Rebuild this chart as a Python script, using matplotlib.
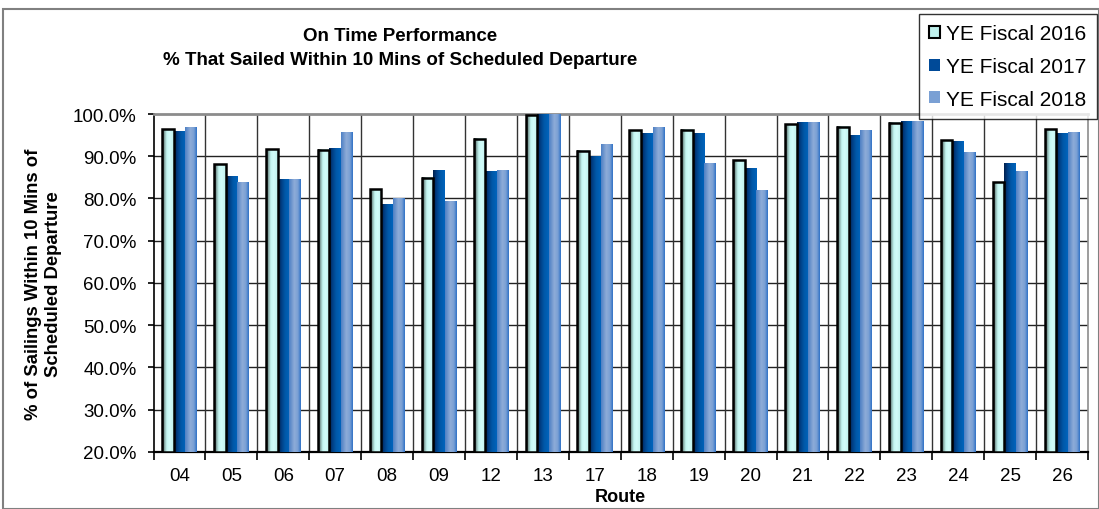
import matplotlib
matplotlib.use('Agg')
import numpy as np
import matplotlib.pyplot as plt
from matplotlib.colors import LinearSegmentedColormap
from matplotlib.patches import Rectangle, Patch
from matplotlib.ticker import FuncFormatter, FixedLocator

plt.rcParams['font.family'] = ['Liberation Sans', 'DejaVu Sans']

routes = ['04', '05', '06', '07', '08', '09', '12', '13', '17', '18',
          '19', '20', '21', '22', '23', '24', '25', '26']
fy2016 = [96.4, 88.1, 91.7, 91.5, 82.2, 84.9, 94.1, 99.7, 91.3, 96.2,
          96.3, 89.1, 97.6, 97.0, 97.9, 93.8, 83.9, 96.4]
fy2017 = [95.8, 85.3, 84.4, 91.9, 78.5, 86.7, 86.3, 100.0, 90.0, 95.5,
          95.3, 87.2, 97.9, 95.0, 98.3, 93.6, 88.2, 95.3]
fy2018 = [96.9, 83.7, 84.4, 95.6, 80.1, 79.2, 86.7, 100.0, 92.9, 96.9,
          88.4, 82.0, 97.9, 96.0, 98.3, 91.0, 86.5, 95.7]
series_names = ['YE Fiscal 2016', 'YE Fiscal 2017', 'YE Fiscal 2018']

# horizontal shading used inside each bar
cmap16 = LinearSegmentedColormap.from_list('c16', [
    (0.0, '#1a1a1a'), (0.18, '#7e9e9a'), (0.40, '#c4f6f2'),
    (0.65, '#d2fcf9'), (1.0, '#bff0ec')])
cmap17 = LinearSegmentedColormap.from_list('c17', [
    (0.0, '#00204c'), (0.30, '#003f85'), (0.60, '#0058a8'), (1.0, '#0064bc')])
cmap18 = LinearSegmentedColormap.from_list('c18', [
    (0.0, '#4e80c4'), (0.45, '#8eacd8'), (0.75, '#7aa0d4'), (1.0, '#2f72c6')])

fig = plt.figure(figsize=(10.99, 5.10), dpi=100)
ax = fig.add_axes([0.1397, 0.1118, 0.8503, 0.6627])

x = np.arange(len(routes))
w = 0.223
ymin, ymax = 20, 100
grad = np.linspace(0, 1, 64).reshape(1, -1)

for vals, off, cmap, edge in [(fy2016, -w, cmap16, True),
                              (fy2017, 0, cmap17, False),
                              (fy2018, w, cmap18, False)]:
    for xi, v in zip(x, vals):
        x0 = xi + off - w / 2
        ax.imshow(grad, extent=[x0, x0 + w, ymin, v], aspect='auto',
                  cmap=cmap, interpolation='bilinear', zorder=3)
        if edge:
            ax.add_patch(Rectangle((x0, ymin), w, v - ymin, fill=False,
                                   edgecolor='black', linewidth=1.8, zorder=4))

ax.set_xlim(-0.5, len(routes) - 0.5)
ax.set_ylim(ymin, ymax)

# grid lines
for yv in range(30, 100, 10):
    ax.axhline(yv, color='#222222', linewidth=1.0, zorder=1)
for b in np.arange(0.5, len(routes) - 0.5, 1):
    ax.axvline(b, color='#333333', linewidth=1.0, zorder=1)

ax.spines['top'].set_color('#8c8c8c')
ax.spines['top'].set_linewidth(2)
ax.spines['right'].set_color('#8c8c8c')
ax.spines['right'].set_linewidth(1.2)
ax.spines['left'].set_linewidth(1.2)
ax.spines['bottom'].set_linewidth(1.6)

ax.set_yticks(range(20, 101, 10))
ax.yaxis.set_major_formatter(FuncFormatter(lambda v, p: f'{v:.1f}%'))
ax.tick_params(axis='y', direction='out', length=4, width=1.2,
               labelsize=13.5, pad=8)

ax.set_xticks(x)
ax.set_xticklabels(routes)
ax.xaxis.set_minor_locator(FixedLocator(np.arange(-0.5, len(routes), 1)))
ax.tick_params(axis='x', which='major', length=0, labelsize=13.5, pad=11)
ax.tick_params(axis='x', which='minor', direction='out', length=6, width=1.2)

ax.set_xlabel('Route', fontsize=13, fontweight='bold', labelpad=3)
ax.set_ylabel('% of Sailings Within 10 Mins of\nScheduled Departure',
              fontsize=13.3, fontweight='bold', labelpad=8, linespacing=1.2)

fig.text(0.364, 0.905, 'On Time Performance\n% That Sailed Within 10 Mins of Scheduled Departure',
         ha='center', va='center', fontsize=13.5, fontweight='bold',
         linespacing=1.5)

handles = [Patch(facecolor='#bff0ec', edgecolor='black', linewidth=1.5),
           Patch(facecolor='#004a98', edgecolor='none'),
           Patch(facecolor='#7aa0d4', edgecolor='none')]
leg = fig.legend(handles, series_names, loc='upper left',
                 bbox_to_anchor=(919 / 1099, 1 - 15 / 510), fontsize=15,
                 frameon=True, fancybox=False, edgecolor='black',
                 handlelength=0.5, handleheight=0.5, handletextpad=0.3,
                 labelspacing=0.65, borderpad=0.5, borderaxespad=0)
leg.get_frame().set_linewidth(1.0)

# outer chart frame
fig.patches.append(Rectangle((3 / 1099, 0), 1 - 3 / 1099, 1 - 10 / 510,
                             transform=fig.transFigure, fill=False,
                             edgecolor='#808080', linewidth=1.5, zorder=0))

fig.savefig('out.png', dpi=100)
